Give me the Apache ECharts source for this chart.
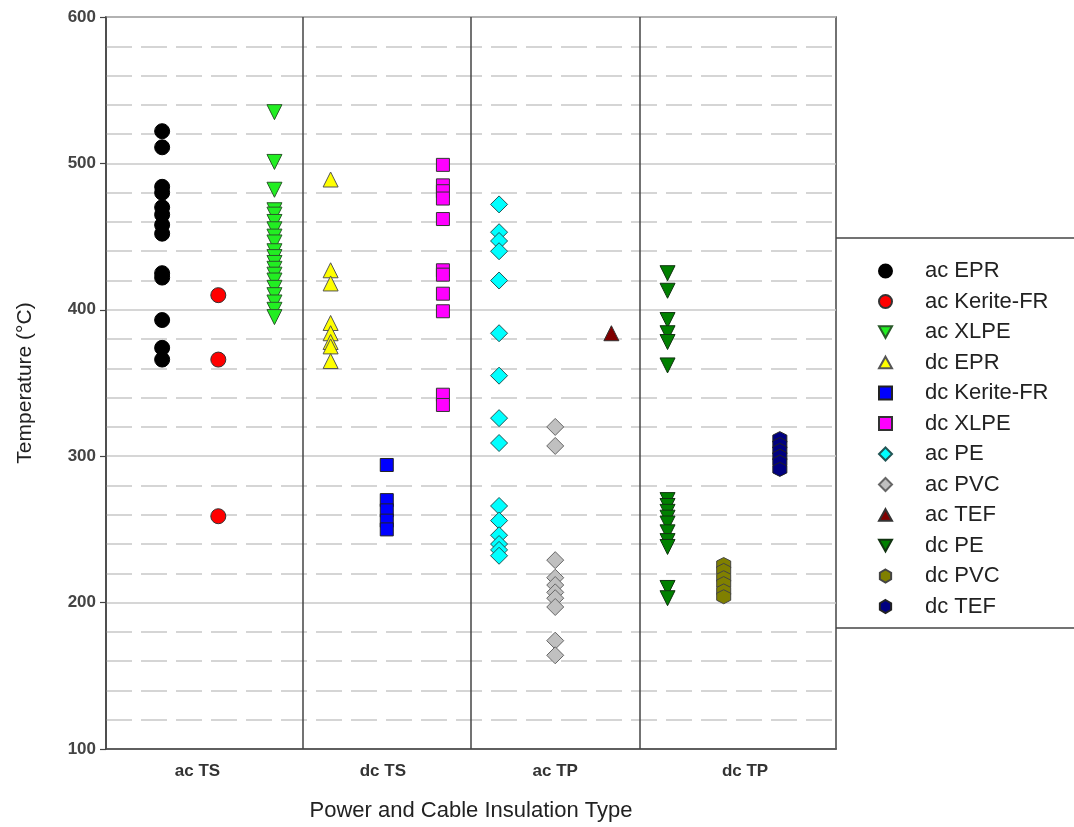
<!DOCTYPE html>
<html><head><meta charset="utf-8">
<script src="https://cdn.jsdelivr.net/npm/echarts@6/dist/echarts.min.js"></script>
<style>html,body{margin:0;padding:0;background:#fff}#c{width:1074px;height:827px}</style>
</head><body><div id="c"></div>
<script>
// ---- data ----
const seriesNames = ['ac EPR','ac Kerite-FR','ac XLPE','dc EPR','dc Kerite-FR','dc XLPE','ac PE','ac PVC','ac TEF','dc PE','dc PVC','dc TEF'];
const acEPR = [522,511,484,480,470,465,458,452,425,422,393,374,366];
const acKeriteFR = [410,366,259];
const acXLPE = [535,501,482,468,465,460,455,450,446,440,436,432,428,424,420,415,410,405,400,395];
const dcEPR = [489,427,418,391,384,378,375,365];
const dcKeriteFR = [294,270,263,256,250];
const dcXLPE = [499,485,481,476,462,427,424,411,399,342,335];
const acPE = [472,453,447,440,420,384,355,326,309,266,256,246,240,236,232];
const acPVC = [320,307,229,217,212,207,203,197,174,164];
const acTEF = [384];
const dcPE = [425,413,393,384,378,362,270,266,262,258,254,248,242,238,210,203];
const dcPVC = [226,222,217,213,208,204];
const dcTEF = [312,308,304,300,296,291];
const groupLabels = ['ac TS','dc TS','ac TP','dc TP'];
const groupLabelPos = [1.63,4.93,8.0,11.38];
const groupSeparators = [3.5,6.5,9.5];
const yTicks = [100,200,300,400,500,600];

// ---- styles ----
const allValues = [acEPR,acKeriteFR,acXLPE,dcEPR,dcKeriteFR,dcXLPE,acPE,acPVC,acTEF,dcPE,dcPVC,dcTEF];
const hex = 'path://M50,0 L93.3,25 L93.3,75 L50,100 L6.7,75 L6.7,25 Z';
const downTri = 'path://M0,0 L100,0 L50,90 Z';
const upTri = 'path://M50,0 L100,90 L0,90 Z';
const styles = [
  {c:'#000000', s:'circle', z:15, b:'#000000'},
  {c:'#ff0000', s:'circle', z:15, b:'#333'},
  {c:'#22ee22', s:downTri, z:15, b:'#2a5a2a'},
  {c:'#ffff00', s:upTri, z:15, b:'#555'},
  {c:'#0000ff', s:'rect', z:13, b:'#222'},
  {c:'#ff00ff', s:'rect', z:13, b:'#333'},
  {c:'#00ffff', s:'diamond', z:17, b:'#225555'},
  {c:'#c0c0c0', s:'diamond', z:17, b:'#666'},
  {c:'#800000', s:upTri, z:15, b:'#333'},
  {c:'#008000', s:downTri, z:15, b:'#113311'},
  {c:'#808000', s:hex, z:14, b:'#444'},
  {c:'#000080', s:hex, z:14, b:'#222'}
];

const series = seriesNames.map((name,i)=>({
  name: name,
  type: 'scatter',
  data: allValues[i].map(v=>[i+1, v]),
  symbol: styles[i].s,
  symbolSize: styles[i].z,
  itemStyle: {color: styles[i].c, borderColor: styles[i].b, borderWidth: 1, opacity: 1},
  emphasis: {disabled: true},
  z: 3
}));
series.push({
  name: '_sep', type: 'scatter', data: [], silent: true,
  markLine: {silent: true, symbol: ['none','none'], label: {show:false},
    lineStyle: {color:'#444', width:1.5, type:'solid'},
    data: groupSeparators.map(x=>({xAxis:x}))}
});

const chart = echarts.init(document.getElementById('c'), null, {renderer:'canvas'});
chart.setOption({
  animation: false,
  backgroundColor: '#ffffff',
  grid: {left:106, right:238, top:17, bottom:77, show:true, borderColor:'#444', borderWidth:1.5, containLabel:false},
  xAxis: {
    type:'value', min:0, max:13,
    name:'Power and Cable Insulation Type', nameLocation:'middle', nameGap:51,
    nameTextStyle:{fontFamily:'Liberation Sans', fontSize:22, color:'#222'},
    axisLine:{show:true, lineStyle:{color:'#444', width:1.5}},
    axisTick:{show:false},
    splitLine:{show:false},
    axisLabel:{customValues:groupLabelPos, margin:14, fontFamily:'Liberation Sans', fontSize:17, fontWeight:'bold', color:'#333',
      formatter:(v)=>{ let k=0,d=1e9; groupLabelPos.forEach((p,j)=>{ if(Math.abs(p-v)<d){d=Math.abs(p-v);k=j;} }); return groupLabels[k]; }}
  },
  yAxis: {
    type:'value', min:100, max:600, interval:100,
    name:'Temperature (°C)', nameLocation:'middle', nameGap:70,
    nameTextStyle:{fontFamily:'Liberation Sans', fontSize:21, color:'#222'},
    axisLine:{show:true, lineStyle:{color:'#444', width:1.5}},
    axisTick:{show:true, inside:false, length:6, lineStyle:{color:'#444', width:1.2}},
    axisLabel:{margin:10, fontFamily:'Liberation Sans', fontSize:17, fontWeight:'bold', color:'#444', customValues:yTicks},
    splitLine:{show:true, lineStyle:{color:'#c8c8c8', width:1.5, type:'solid'}},
    minorTick:{show:false, splitNumber:5},
    minorSplitLine:{show:true, lineStyle:{color:'#c8c8c8', width:1.5, type:[26,9]}}
  },
  legend: {
    orient:'vertical', left:873, top:255, itemWidth:13, itemHeight:13, itemGap:8.5,
    data: seriesNames,
    selectedMode:false,
    textStyle:{fontFamily:'Liberation Sans', fontSize:22, color:'#222', lineHeight:22, padding:[0,0,0,28]}
  },
  graphic: [
    {type:'line', shape:{x1:836, y1:238, x2:1074, y2:238}, style:{stroke:'#444', lineWidth:1.5}, silent:true},
    {type:'line', shape:{x1:836, y1:628, x2:1074, y2:628}, style:{stroke:'#444', lineWidth:1.5}, silent:true}
  ],
  series: series
});
</script></body></html>
